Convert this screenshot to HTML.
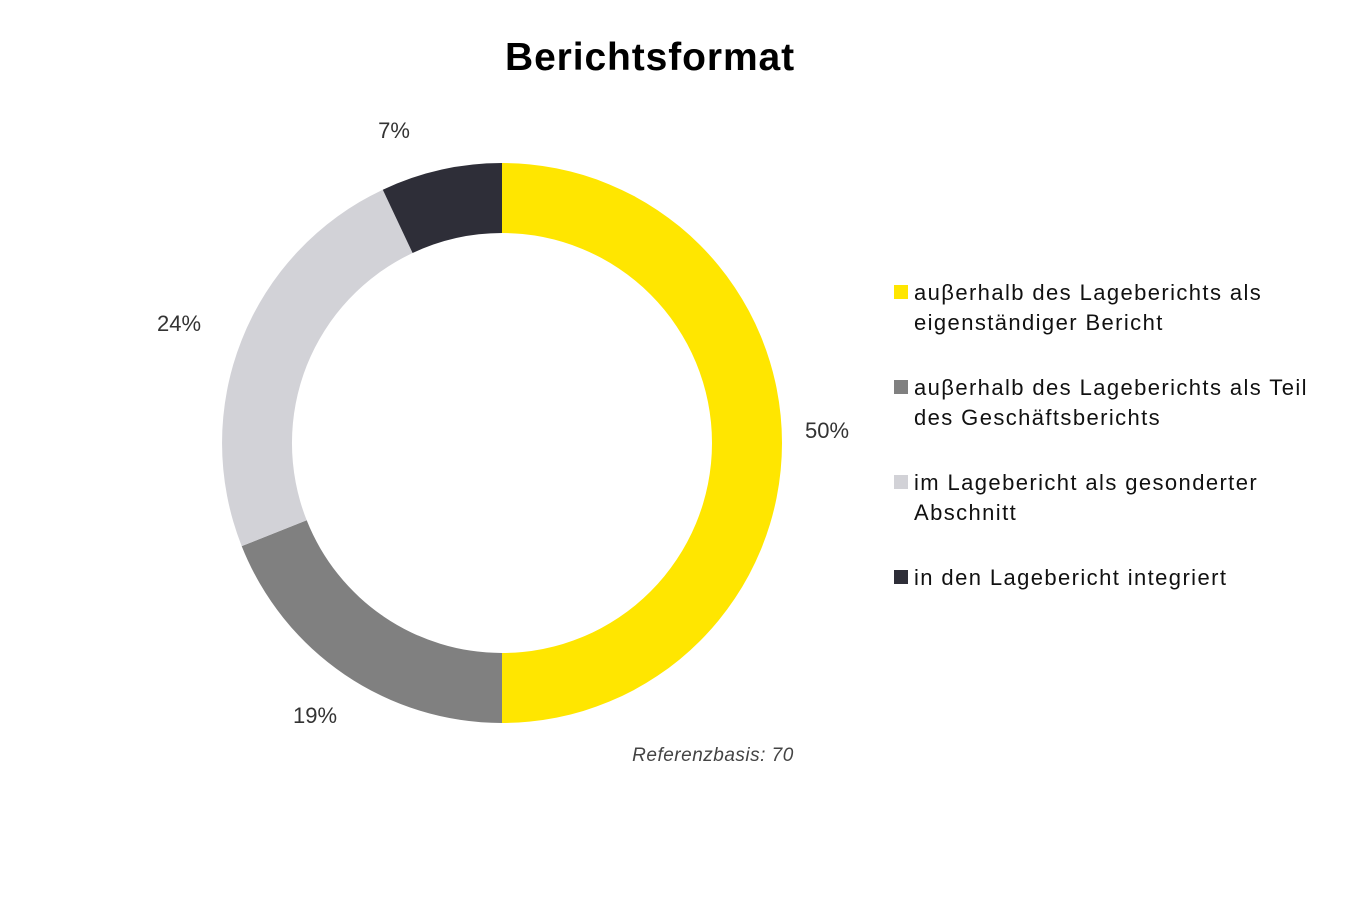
<!DOCTYPE html>
<html><head><meta charset="utf-8"><style>
body{margin:0;background:#fff;}
svg text{font-family:"Liberation Sans",sans-serif;}
</style></head><body>
<svg width="1346" height="898" viewBox="0 0 1346 898" xmlns="http://www.w3.org/2000/svg">
<rect width="1346" height="898" fill="#fff"/>
<text x="650" y="70" text-anchor="middle" font-size="39" font-weight="bold" fill="#000" letter-spacing="0.9">Berichtsformat</text>
<path d="M502,163 A280,280 0 0 1 502,723 L502,653 A210,210 0 0 0 502,233 Z" fill="#FFE600"/>
<path d="M502,723 A280,280 0 0 1 241.7,546.1 L306.7,520.3 A210,210 0 0 0 502,653 Z" fill="#808080"/>
<path d="M241.7,546.1 A280,280 0 0 1 382.8,189.7 L412.6,253 A210,210 0 0 0 306.7,520.3 Z" fill="#D2D2D7"/>
<path d="M382.8,189.7 A280,280 0 0 1 502,163 L502,233 A210,210 0 0 0 412.6,253 Z" fill="#2E2E38"/>
<g font-size="22" fill="#333">
<text x="394" y="138" text-anchor="middle">7%</text>
<text x="179" y="331" text-anchor="middle">24%</text>
<text x="827" y="438" text-anchor="middle">50%</text>
<text x="315" y="723" text-anchor="middle">19%</text>
</g>
<text x="713" y="761" text-anchor="middle" font-size="19" font-style="italic" fill="#444" letter-spacing="0.5">Referenzbasis: 70</text>
<g font-size="22" fill="#111" letter-spacing="1.4">
<rect x="894" y="285" width="14" height="14" fill="#FFE600"/>
<text x="914" y="300">auβerhalb des Lageberichts als</text>
<text x="914" y="330">eigenständiger Bericht</text>
<rect x="894" y="380" width="14" height="14" fill="#808080"/>
<text x="914" y="395">auβerhalb des Lageberichts als Teil</text>
<text x="914" y="425">des Geschäftsberichts</text>
<rect x="894" y="475" width="14" height="14" fill="#D2D2D7"/>
<text x="914" y="490">im Lagebericht als gesonderter</text>
<text x="914" y="520">Abschnitt</text>
<rect x="894" y="570" width="14" height="14" fill="#2E2E38"/>
<text x="914" y="585">in den Lagebericht integriert</text>
</g>
</svg>
</body></html>
